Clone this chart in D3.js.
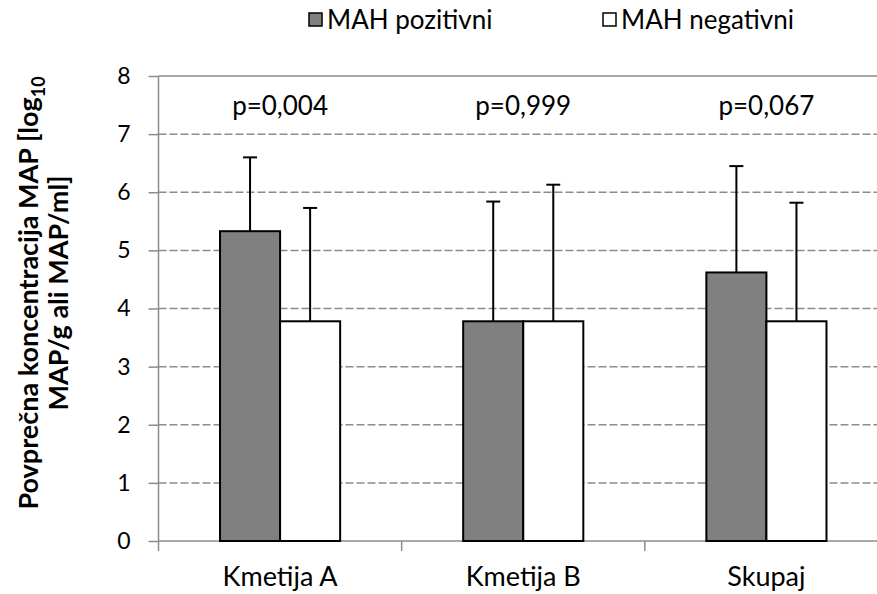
<!DOCTYPE html>
<html lang="sl">
<head>
<meta charset="UTF-8">
<title>Povprečna koncentracija MAP</title>
<script src="https://d3js.org/d3.v7.min.js"></script>
<style>
    body { margin: 0; background: #fff; }
    text { font-family: Lato, "Open Sans", sans-serif; fill: #000; }
    .grid line { stroke: #8c8c8c; stroke-width: 1.5px; stroke-dasharray: 8 3; }
    .axis path, .axis line { stroke: #8c8c8c; stroke-width: 1.5px; }
    .bar { stroke: #000; stroke-width: 2px; }
    .err { stroke: #000; stroke-width: 2px; fill: none; }
</style>
</head>
<body>
<script>
// podatki
const categories = ["Kmetija A", "Kmetija B", "Skupaj"];
const seriesNames = ["MAH pozitivni", "MAH negativni"];
const pozitivni = [5.33, 3.78, 4.62];
const negativni = [3.78, 3.78, 3.78];
const sdPozitivni = [1.27, 2.06, 1.83];
const sdNegativni = [1.95, 2.35, 2.04];
const pValues = ["p=0,004", "p=0,999", "p=0,067"];
const yTicks = [0, 1, 2, 3, 4, 5, 6, 7, 8];
const colors = ["#808080", "#ffffff"];

const W = 877, H = 594;
const margin = { top: 76, right: -11, bottom: 53, left: 158.5 };
const width = W - margin.left - margin.right,
      height = H - margin.top - margin.bottom;

const svg = d3.select("body").append("svg")
    .attr("width", W)
    .attr("height", H);

const g = svg.append("g")
    .attr("transform", `translate(${margin.left},${margin.top})`);

const x = d3.scaleBand().domain(categories).range([0, width]);
const y = d3.scaleLinear().domain([0, 8]).range([height, 0]);
const barW = x.bandwidth() * 0.247;

// mreza
g.append("g").attr("class", "grid")
    .selectAll("line")
    .data(yTicks.filter(d => d > 0 && d < 8))
    .join("line")
    .attr("x1", 0).attr("x2", width)
    .attr("y1", d => y(d)).attr("y2", d => y(d));

// os y
const yAxis = g.append("g").attr("class", "axis")
    .call(d3.axisLeft(y).tickValues(yTicks).tickSize(10).tickSizeOuter(0));
yAxis.select(".domain").remove();
yAxis.append("line").attr("x1", 0).attr("x2", 0).attr("y1", 0).attr("y2", height + 10);
yAxis.append("line").attr("x1", 0).attr("x2", width).attr("y1", 0).attr("y2", 0);
yAxis.selectAll(".tick line").attr("x1", 0);
yAxis.selectAll(".tick text")
    .attr("x", -28)
    .style("font-size", "23px")
    .style("font-family", "Lato, sans-serif");

// os x
const xAxis = g.append("g").attr("class", "axis")
    .attr("transform", `translate(0,${height})`);
xAxis.append("line").attr("x1", 0).attr("x2", width).attr("y1", 0).attr("y2", 0);
xAxis.selectAll(".sep")
    .data(categories.slice(1))
    .join("line")
    .attr("x1", d => x(d)).attr("x2", d => x(d))
    .attr("y1", 0).attr("y2", 10);
xAxis.selectAll(".lab")
    .data(categories)
    .join("text")
    .attr("x", d => x(d) + x.bandwidth() / 2)
    .attr("y", 45)
    .attr("text-anchor", "middle")
    .style("font-size", "27px")
    .text(d => d);

// stolpci
const series = [pozitivni, negativni];
const sds = [sdPozitivni, sdNegativni];
series.forEach((vals, s) => {
    const grp = g.append("g");
    categories.forEach((c, i) => {
        const cx = x(c) + x.bandwidth() / 2 + (s - 1) * barW;
        grp.append("rect").attr("class", "bar")
            .attr("x", cx).attr("width", barW)
            .attr("y", y(vals[i])).attr("height", height - y(vals[i]))
            .attr("fill", colors[s]);
        const mx = cx + barW / 2;
        const top = y(vals[i] + sds[s][i]);
        grp.append("line").attr("class", "err")
            .attr("x1", mx).attr("x2", mx)
            .attr("y1", y(vals[i])).attr("y2", top);
        grp.append("line").attr("class", "err")
            .attr("x1", mx - 7).attr("x2", mx + 7)
            .attr("y1", top).attr("y2", top);
    });
});

// p vrednosti
g.selectAll(".pval")
    .data(categories)
    .join("text")
    .attr("x", d => x(d) + x.bandwidth() / 2)
    .attr("y", y(7.33))
    .attr("text-anchor", "middle")
    .style("font-size", "26px")
    .text((d, i) => pValues[i]);

// legenda
const legend = svg.append("g");
const legX = [309, 603];
seriesNames.forEach((n, i) => {
    legend.append("rect")
        .attr("x", legX[i]).attr("y", 13)
        .attr("width", 13).attr("height", 13)
        .attr("fill", colors[i])
        .attr("stroke", "#000").attr("stroke-width", 1.5);
    legend.append("text")
        .attr("x", legX[i] + 18).attr("y", 29)
        .style("font-size", "26px")
        .text(n);
});

// naslov osi y
const yt = svg.append("text")
    .attr("transform", "translate(0,293) rotate(-90)")
    .attr("text-anchor", "middle")
    .style("font-size", "27px")
    .style("font-weight", "bold");
const l1 = yt.append("tspan").attr("x", 0).attr("y", 38).text("Povprečna koncentracija MAP [log");
l1.append("tspan").attr("dy", 7).style("font-size", "18px").text("10");
yt.append("tspan").attr("x", 0).attr("y", 68).text("MAP/g ali MAP/ml]");
</script>
</body>
</html>
